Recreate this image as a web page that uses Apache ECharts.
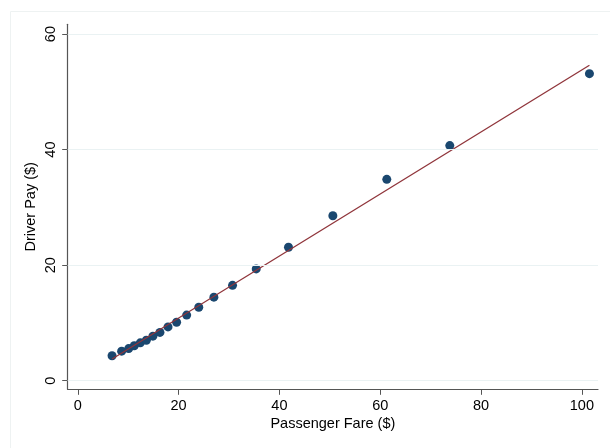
<!DOCTYPE html>
<html>
<head>
<meta charset="utf-8">
<script src="https://cdn.jsdelivr.net/npm/echarts@6/dist/echarts.min.js"></script>
<style>
html,body{margin:0;padding:0;background:#fff;}
#chart{width:610px;height:448px;}
</style>
</head>
<body>
<div id="chart"></div>
<script>
// Data
const fareX = [6.8, 8.7, 10.1, 11.2, 12.4, 13.6, 14.9, 16.3, 17.9, 19.6, 21.6, 24.0, 27.0, 30.7, 35.4, 41.8, 50.6, 61.3, 73.8, 101.5];
const payY  = [4.3, 5.1, 5.55, 6.05, 6.55, 7.0, 7.7, 8.35, 9.3, 10.1, 11.35, 12.7, 14.45, 16.5, 19.35, 23.1, 28.55, 34.85, 40.7, 53.15];
const fitX = [6.8, 101.5];
const fitY = [3.75, 54.6];
const xTicks = [0, 20, 40, 60, 80, 100];
const yTicks = [0, 20, 40, 60];
const xTitle = 'Passenger Fare ($)';
const yTitle = 'Driver Pay ($)';

const FONT = '"Liberation Sans", Arial, Helvetica, sans-serif';
const chart = echarts.init(document.getElementById('chart'), null, {renderer: 'canvas'});
const axisCol = '#555555';

chart.setOption({
  animation: false,
  backgroundColor: '#ffffff',
  graphic: [{
    type: 'rect', left: 8, top: 9, shape: {width: 603, height: 440},
    style: {fill: 'none', stroke: '#eef2f2', lineWidth: 1}, silent: true
  }],
  grid: {left: 67.7, right: 12, top: 24.3, bottom: 58.7, containLabel: false},
  xAxis: {
    type: 'value', min: -2, max: 103.2,
    name: xTitle, nameLocation: 'middle', nameGap: 27, nameMoveOverlap: false,
    nameTextStyle: {fontFamily: FONT, fontSize: 14.5, color: '#000'},
    axisLine: {show: true, onZero: false, lineStyle: {color: axisCol, width: 1.2}},
    axisTick: {show: true, length: 5.5, customValues: xTicks, lineStyle: {color: axisCol}},
    axisLabel: {customValues: xTicks, fontFamily: FONT, fontSize: 14.5, color: '#000', margin: 9},
    splitLine: {show: false}
  },
  yAxis: {
    type: 'value', min: -1.5, max: 61.7,
    name: yTitle, nameLocation: 'middle', nameGap: 29, nameMoveOverlap: false,
    nameTextStyle: {fontFamily: FONT, fontSize: 14.5, color: '#000'},
    axisLine: {show: true, onZero: false, lineStyle: {color: axisCol, width: 1.2}},
    axisTick: {show: true, length: 5.5, customValues: yTicks, lineStyle: {color: axisCol}},
    axisLabel: {customValues: yTicks, rotate: 90, fontFamily: FONT, fontSize: 14.5, color: '#000', margin: 9},
    splitLine: {show: false}
  },
  series: [
    {
      type: 'line',
      data: fitX.map((x, i) => [x, fitY[i]]),
      symbol: 'none',
      lineStyle: {color: '#90353b', width: 1.3},
      silent: true,
      z: 3,
      markLine: {
        silent: true, symbol: 'none', label: {show: false},
        lineStyle: {color: '#eaf2f3', width: 1.2, type: 'solid'},
        data: yTicks.map(v => ({yAxis: v}))
      }
    },
    {
      type: 'scatter',
      data: fareX.map((x, i) => [x, payY[i]]),
      symbol: 'circle',
      symbolSize: 9,
      itemStyle: {color: '#1a476f', opacity: 1},
      z: 2
    }
  ]
});
</script>
</body>
</html>
